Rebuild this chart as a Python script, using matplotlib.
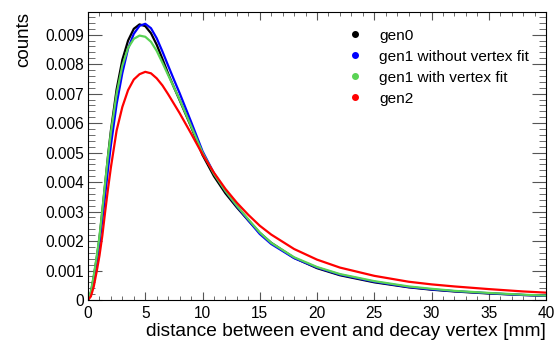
import matplotlib
matplotlib.use("Agg")
import matplotlib.pyplot as plt
from matplotlib.ticker import MultipleLocator, FormatStrFormatter
from matplotlib.lines import Line2D

plt.rcParams['font.family'] = ['Liberation Sans', 'DejaVu Sans']

# distance [mm] where the curves were read
dist = [0, 0.25, 0.5, 0.75, 1, 1.25, 1.5, 1.75, 2, 2.5, 3, 3.5, 4, 4.5, 5, 5.5,
        6, 6.5, 7, 7.5, 8, 9, 10, 11, 12, 13, 14, 15, 16, 18, 20, 22, 25, 28,
        30, 32, 35, 38, 40]

gen0 = [0, 0.00025, 0.00078, 0.00140, 0.00210, 0.00300, 0.00395, 0.00490,
        0.00575, 0.00715, 0.00815, 0.00880, 0.00920, 0.00935, 0.00929, 0.00905,
        0.00866, 0.00818, 0.00768, 0.00722, 0.00678, 0.00588, 0.00492, 0.00420,
        0.00362, 0.00314, 0.00270, 0.00228, 0.00194, 0.00143, 0.00108, 0.00084,
        0.00060, 0.00043, 0.00035, 0.00029, 0.00022, 0.00017, 0.00014]

gen1_nofit = [0, 0.00020, 0.00065, 0.00125, 0.00190, 0.00272, 0.00355, 0.00445,
              0.00525, 0.00665, 0.00770, 0.00853, 0.00903, 0.00930, 0.00937,
              0.00922, 0.00888, 0.00843, 0.00795, 0.00748, 0.00702, 0.00605,
              0.00505, 0.00430, 0.00370, 0.00318, 0.00270, 0.00224, 0.00190,
              0.00142, 0.00110, 0.00086, 0.00062, 0.00044, 0.00036, 0.00030,
              0.00023, 0.00017, 0.000145]

gen1_fit = [0, 0.00028, 0.00082, 0.00145, 0.00215, 0.00305, 0.00398, 0.00488,
            0.00568, 0.00700, 0.00795, 0.00855, 0.00886, 0.00897, 0.00893,
            0.00876, 0.00845, 0.00805, 0.00763, 0.00722, 0.00680, 0.00590,
            0.00500, 0.00428, 0.00370, 0.00320, 0.00274, 0.00229, 0.00194,
            0.00145, 0.00112, 0.00088, 0.00064, 0.00046, 0.00038, 0.00031,
            0.00024, 0.00018, 0.00015]

gen2 = [0, 0.00012, 0.00045, 0.00095, 0.00150, 0.00218, 0.00300, 0.00378,
        0.00450, 0.00575, 0.00655, 0.00712, 0.00748, 0.00766, 0.00774, 0.00769,
        0.00752, 0.00728, 0.00698, 0.00666, 0.00634, 0.00565, 0.00494, 0.00432,
        0.00377, 0.00330, 0.00289, 0.00252, 0.00222, 0.00173, 0.00137, 0.00110,
        0.00082, 0.00062, 0.00053, 0.00046, 0.00037, 0.00029, 0.00025]

series = [gen0, gen1_nofit, gen1_fit, gen2]
labels = ['gen0', 'gen1 without vertex fit', 'gen1 with vertex fit', 'gen2']
colors = ['black', '#0000ff', '#59d354', '#ff0000']

fig = plt.figure(figsize=(5.56, 3.42), dpi=100)
ax = fig.add_axes([88/556, 42/342, 458/556, 288/342])

for vals, col in zip(series, colors):
    ax.plot(dist, vals, color=col, lw=1.6)

ax.set_xlim(0, 40)
ax.set_ylim(0, 0.00977)

ax.xaxis.set_major_locator(MultipleLocator(5))
ax.xaxis.set_minor_locator(MultipleLocator(1))
ax.yaxis.set_major_locator(MultipleLocator(0.001))
ax.yaxis.set_minor_locator(MultipleLocator(0.0002))
ax.yaxis.set_major_formatter(FormatStrFormatter('%g'))

ax.tick_params(axis='both', which='both', direction='in', top=True, right=True,
               labelsize=11.2, color='#555555')
ax.tick_params(axis='x', which='major', length=5.8, pad=4)
ax.tick_params(axis='x', which='minor', length=2.9)
ax.tick_params(axis='y', which='major', length=10, pad=3)
ax.tick_params(axis='y', which='minor', length=5)
for sp in ax.spines.values():
    sp.set_linewidth(0.8)

ax.set_xlabel('distance between event and decay vertex [mm]', loc='right',
              fontsize=13.8, labelpad=2)
ax.set_ylabel('counts', loc='top', fontsize=13.5, labelpad=9)

handles = [Line2D([], [], ls='none', marker='o', ms=4, color=c) for c in colors]
ax.legend(handles, labels, loc='upper left', bbox_to_anchor=(0.5356, 0.9897),
          frameon=False, fontsize=11.1, handletextpad=1.06, labelspacing=0.455,
          handlelength=1.0)

fig.savefig('out.png', dpi=100)
